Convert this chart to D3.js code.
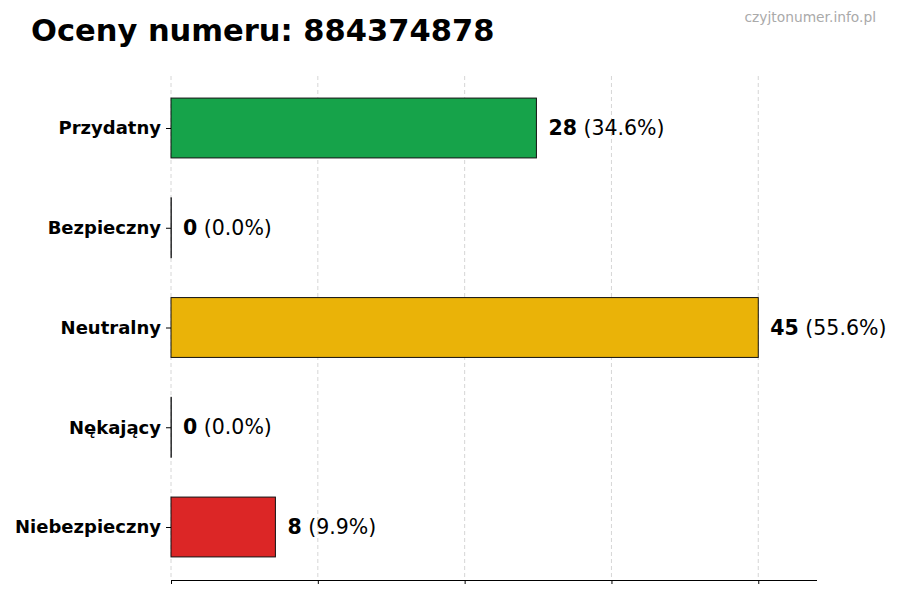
<!DOCTYPE html>
<html>
<head>
<meta charset="utf-8">
<script src="https://cdn.jsdelivr.net/npm/d3@7"></script>
<style>
  body { margin: 0; background: #fff; }
  svg text { font-family: "DejaVu Sans", sans-serif; }
</style>
</head>
<body>
<svg id="chart" width="900" height="600"></svg>
<script>
var categories = ["Przydatny", "Bezpieczny", "Neutralny", "Nękający", "Niebezpieczny"];
var counts = [28, 0, 45, 0, 8];
var percents = ["34.6", "0.0", "55.6", "0.0", "9.9"];
var colors = ["#16a34a", "#6b7280", "#eab308", "#6b7280", "#dc2626"];
var xTicks = [0, 11.25, 22.5, 33.75, 45];

var svg = d3.select("#chart");

var margin = { top: 76, left: 171, right: 83, bottom: 20 };
var plotBottom = 580;

var x = d3.scaleLinear().domain([0, 49.5]).range([margin.left, 900 - margin.right]);
var y = d3.scalePoint().domain(categories).range([128, 527]);
var barH = y.step() * 0.6;

// title + watermark
svg.append("text")
  .attr("x", 31).attr("y", 41)
  .style("font-size", "30.5px").style("font-weight", "bold")
  .text("Oceny numeru: 884374878");

svg.append("text")
  .attr("x", 876).attr("y", 22)
  .attr("text-anchor", "end")
  .style("font-size", "13.8px").style("fill", "#aaaaaa")
  .text("czyjtonumer.info.pl");

// grid
svg.append("g")
  .selectAll("line")
  .data(xTicks)
  .enter()
  .append("line")
  .attr("x1", function (d) { return x(d); })
  .attr("x2", function (d) { return x(d); })
  .attr("y1", margin.top)
  .attr("y2", plotBottom)
  .attr("stroke", "#cccccc")
  .attr("stroke-width", 0.8)
  .attr("stroke-dasharray", "4,3");

// bars (zero bars still show their edge)
svg.append("g")
  .selectAll("rect")
  .data(categories)
  .enter()
  .append("rect")
  .attr("x", x(0))
  .attr("y", function (d) { return y(d) - barH / 2; })
  .attr("width", function (d, i) { return Math.max(x(counts[i]) - x(0), 0.3); })
  .attr("height", barH)
  .attr("fill", function (d, i) { return colors[i]; })
  .attr("stroke", "#111")
  .attr("stroke-width", 1);

// value labels
var labels = svg.append("g")
  .selectAll("text")
  .data(categories)
  .enter()
  .append("text")
  .attr("x", function (d, i) { return x(counts[i]) + 12; })
  .attr("y", function (d) { return y(d); })
  .attr("dy", "0.35em")
  .style("font-size", "20.5px");
labels.append("tspan").style("font-weight", "bold").text(function (d, i) { return counts[i]; });
labels.append("tspan").text(function (d, i) { return " (" + percents[i] + "%)"; });

// y axis (no spine)
var yAxis = svg.append("g")
  .attr("transform", "translate(" + margin.left + ",0)")
  .call(d3.axisLeft(y).tickSize(5).tickPadding(5));
yAxis.select(".domain").remove();
yAxis.selectAll("text")
  .style("font-size", "18px").style("font-weight", "bold")
  .style("font-family", "DejaVu Sans, sans-serif")
  .attr("fill", "#000");

// x axis, ticks without labels
var xAxis = svg.append("g")
  .attr("transform", "translate(0," + plotBottom + ")")
  .call(d3.axisBottom(x).tickValues(xTicks).tickFormat("").tickSize(4));
xAxis.select(".domain").attr("d", "M" + x(0) + ",0.5H" + x(49.5));
</script>
</body>
</html>
